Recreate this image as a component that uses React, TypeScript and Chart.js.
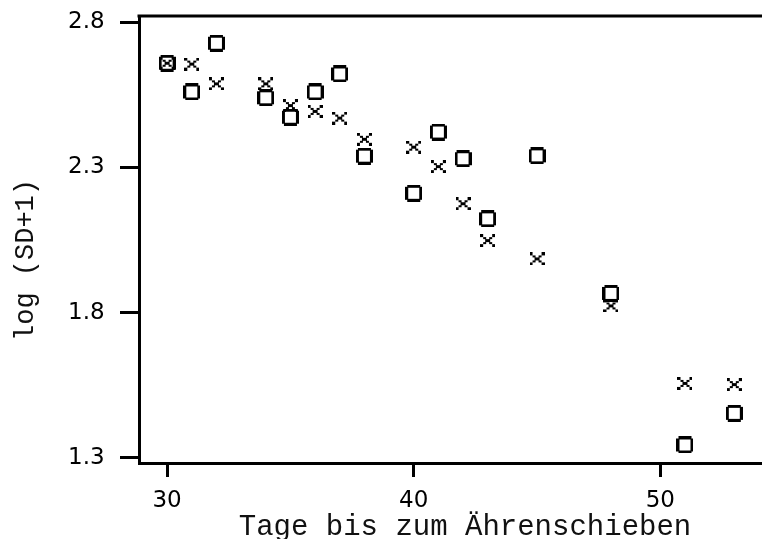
import React, { useEffect, useRef } from 'react';
import { Chart, registerables } from 'chart.js';

Chart.register(...registerables);

const days = [30, 31, 32, 34, 35, 36, 37, 38, 40, 41, 42, 43, 45, 48, 51, 53];
const seriesO = [2.659, 2.56, 2.728, 2.54, 2.473, 2.56, 2.622, 2.339, 2.211, 2.422, 2.33, 2.123, 2.34, 1.866, 1.344, 1.453];
const seriesX = [2.659, 2.656, 2.588, 2.588, 2.513, 2.493, 2.47, 2.397, 2.37, 2.303, 2.175, 2.048, 1.985, 1.823, 1.556, 1.552];
const xTicks = [30, 40, 50];
const yTicks = [1.3, 1.8, 2.3, 2.8];
const xTitle = 'Tage bis zum Ährenschieben';
const yTitle = 'log (SD+1)';

function makeO(): HTMLCanvasElement {
  const c = document.createElement('canvas');
  c.width = 17;
  c.height = 17;
  const g = c.getContext('2d')!;
  g.fillStyle = '#000';
  g.fillRect(2, 0, 13, 3);
  g.fillRect(2, 14, 13, 3);
  g.fillRect(0, 2, 3, 13);
  g.fillRect(14, 2, 3, 13);
  return c;
}

function makeX(): HTMLCanvasElement {
  const c = document.createElement('canvas');
  c.width = 15;
  c.height = 13;
  const g = c.getContext('2d')!;
  g.fillStyle = '#000';
  const r = (x: number, y: number, w: number, h: number) => g.fillRect(x, y, w, h);
  r(0, 0, 3, 3); r(12, 0, 3, 3);
  r(3, 3, 3, 2); r(9, 3, 3, 2);
  r(5, 5, 5, 3);
  r(3, 8, 3, 2); r(9, 8, 3, 2);
  r(0, 10, 3, 3); r(12, 10, 3, 3);
  return c;
}

const topBorder = {
  id: 'topBorder',
  afterDraw(chart: any) {
    const { ctx, chartArea } = chart;
    ctx.save();
    ctx.strokeStyle = '#000';
    ctx.lineWidth = 3;
    ctx.beginPath();
    ctx.moveTo(chartArea.left - 1.5, chartArea.top);
    ctx.lineTo(chartArea.right, chartArea.top);
    ctx.stroke();
    ctx.restore();
  },
};

export default function App() {
  const ref = useRef<HTMLCanvasElement | null>(null);
  useEffect(() => {
    if (!ref.current) return;
    const oImg = makeO();
    const xImg = makeX();
    const chart = new Chart(ref.current, {
      type: 'scatter',
      data: {
        datasets: [
          {
            label: 'O',
            data: days.map((d, i) => ({ x: d, y: seriesO[i] })),
            pointStyle: oImg as any,
            pointRadius: 8,
          },
          {
            label: 'X',
            data: days.map((d, i) => ({ x: d, y: seriesX[i] })),
            pointStyle: xImg as any,
            pointRadius: 8,
          },
        ],
      },
      options: {
        animation: false,
        responsive: false,
        devicePixelRatio: 1,
        layout: { padding: { top: 0, bottom: 19, left: 0, right: 0 } },
        plugins: {
          legend: { display: false },
          tooltip: { enabled: false },
          title: {
            display: true,
            position: 'left',
            text: yTitle,
            color: '#111',
            font: { family: 'Liberation Mono', size: 27, weight: 'normal' },
            padding: { top: 9.8, bottom: 25.8 },
          },
        },
        scales: {
          x: {
            type: 'linear',
            min: 28.86,
            max: 55.3,
            afterFit: (s: any) => { s.height = 57; },
            afterBuildTicks: (s: any) => { s.ticks = xTicks.map((v) => ({ value: v })); },
            grid: { drawOnChartArea: false, drawTicks: true, tickLength: 14, lineWidth: 3, color: '#000' },
            border: { display: true, width: 3, color: '#000' },
            ticks: {
              color: '#000',
              padding: 10,
              maxRotation: 0,
              font: { family: 'DejaVu Sans', size: 23 },
              callback: (v: any) => String(v),
            },
            title: {
              display: true,
              text: xTitle,
              color: '#111',
              font: { family: 'Liberation Mono', size: 29, weight: 'normal' },
              padding: { top: 0, bottom: -24.7 },
            },
          },
          y: {
            type: 'linear',
            min: 1.2819,
            max: 2.8217,
            afterFit: (s: any) => { s.width = 71; },
            afterBuildTicks: (s: any) => { s.ticks = yTicks.map((v) => ({ value: v })); },
            grid: { drawOnChartArea: false, drawTicks: true, tickLength: 19, lineWidth: 3, color: '#000' },
            border: { display: true, width: 3, color: '#000' },
            ticks: {
              color: '#000',
              padding: 0,
              crossAlign: 'far',
              font: { family: 'DejaVu Sans', size: 23, lineHeight: 32 / 23 },
              callback: (v: any) => Number(v).toFixed(1),
            },
          },
        },
      },
      plugins: [topBorder],
    });
    return () => chart.destroy();
  }, []);
  return (
    <div style={{ position: 'absolute', left: 0, top: 0, width: 762, height: 539, overflow: 'hidden', background: '#fff' }}>
      <canvas ref={ref} width={800} height={539} style={{ width: 800, height: 539, display: 'block' }} />
    </div>
  );
}
